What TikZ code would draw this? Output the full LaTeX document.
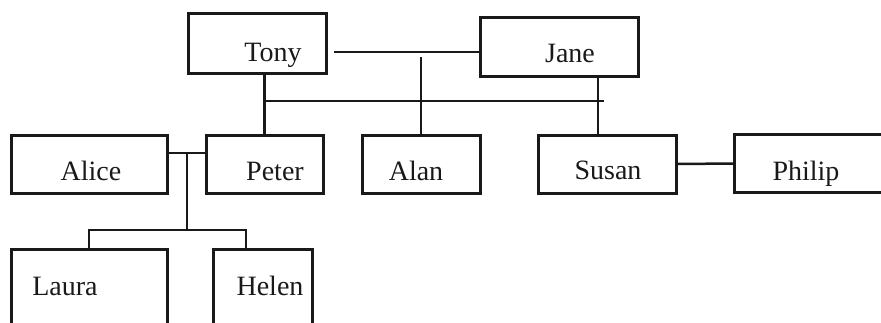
\documentclass[tikz,border=0pt]{standalone}
\usepackage{fontspec}
\setmainfont{Liberation Serif}
\begin{document}
\begin{tikzpicture}[x=1pt,y=-1pt,
  pbox/.style={draw=black!90, line width=3pt, inner sep=0pt, outer sep=0pt},
  ptext/.style={anchor=base, inner sep=0pt, font=\fontsize{28}{30}\selectfont, text=black!90},
  conn/.style={draw=black!90, line width=2.5pt}]
\useasboundingbox (0,0) rectangle (881,322);
\clip (0,0) rectangle (881,322);
% boxes
\node[pbox, minimum width=138, minimum height=60] (tony) at (257,43) {};
\node[pbox, minimum width=158, minimum height=59] (jane) at (559,46.5) {};
\node[pbox, minimum width=156, minimum height=58] (alice) at (89,164) {};
\node[pbox, minimum width=117, minimum height=58] (peter) at (264.5,164) {};
\node[pbox, minimum width=118, minimum height=58] (alan) at (421,164) {};
\node[pbox, minimum width=138, minimum height=58] (susan) at (607,164) {};
\node[pbox, minimum width=166, minimum height=58] (philip) at (817,163.5) {};
\node[pbox, minimum width=156, minimum height=91] (laura) at (89,294.5) {};
\node[pbox, minimum width=99, minimum height=91] (helen) at (262.5,294.5) {};
% texts
\node[ptext] (tonyt) at (273,61.5) {Tony};
\node[ptext] (janet) at (570,62) {Jane};
\node[ptext] (alicet) at (91,180) {Alice};
\node[ptext] (petert) at (275,180) {Peter};
\node[ptext] (alant) at (416,180) {Alan};
\node[ptext] (susant) at (608,179) {Susan};
\node[ptext] (philipt) at (806,180) {Philip};
\node[ptext] (laurat) at (65,295) {Laura};
\node[ptext] (helent) at (270,295) {Helen};
% connector coordinates
\coordinate (tj) at (334,52);
\coordinate (alantop) at (421,57);
\coordinate (hl1) at (263,101);
\coordinate (hl2) at (604,101);
\coordinate (jd) at (598,101);
\coordinate (ap) at (187,153);
\coordinate (kids) at (187,230);
\coordinate (k1) at (89,230);
\coordinate (k2) at (246,230);
% connectors
\draw[conn] (tj) -- (tj -| jane.west);
\draw[conn] (alantop) -- (alan.north);
\draw[conn] (hl1) -- (hl2);
\draw[conn] (tony.south -| peter.north) -- (peter.north);
\draw[conn] (jane.south -| jd) -- (susan.north -| jd);
\draw[conn] (susan.east) -- (philip.west);
\draw[conn] (alice.east |- ap) -- (peter.west |- ap);
\draw[conn] (ap) -- (kids);
\draw[conn] (k1 |- laura.north) -- (k1) -- (k2) -- (k2 |- helen.north);
\end{tikzpicture}
\end{document}
